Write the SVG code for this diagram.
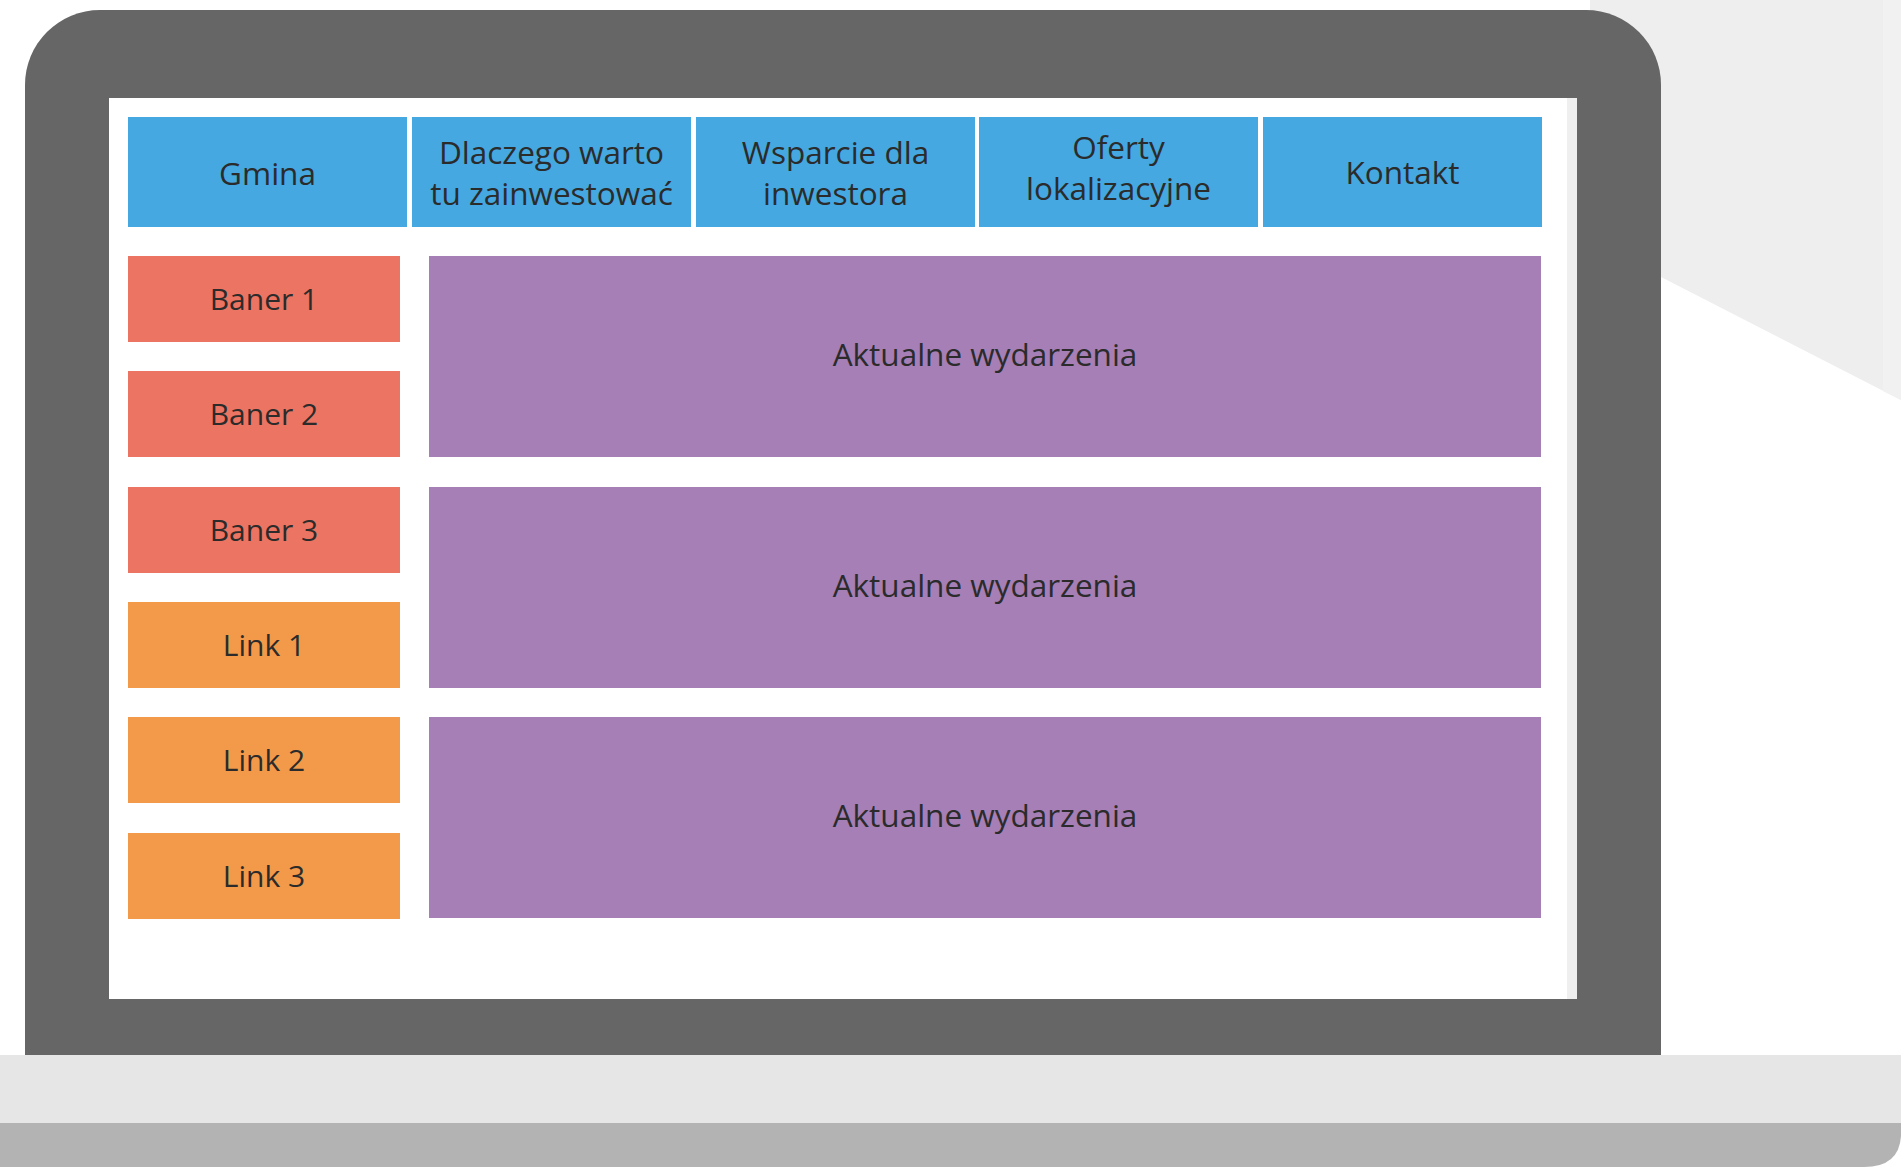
<svg xmlns="http://www.w3.org/2000/svg" width="1901" height="1167" viewBox="0 0 1901 1167">
  <style>
    .lbl { font-family: "Open Sans", "Noto Sans", sans-serif; fill: #2b2b2b; text-anchor: middle; }
    .top { font-size: 31.5px; }
    .side { font-size: 30px; }
    .menu { fill: #45a8e0; }
    .baner { fill: #eb7462; }
    .link { fill: #f29a4a; }
    .news { fill: #a67fb6; }
  </style>
  <rect x="0" y="0" width="1901" height="1167" fill="#ffffff"/>
  <!-- background shape top right -->
  <polygon points="1590,0 1901,0 1901,400 1661,277 1590,277" fill="#eeeeee"/>
  <polygon points="1883,0 1901,0 1901,400 1883,391" fill="#f1f1f1"/>
  <!-- laptop base -->
  <rect x="0" y="1055" width="1901" height="70" fill="#e6e6e6"/>
  <path d="M0 1123 H1901 V1136 Q1899 1167 1864 1167 H0 Z" fill="#b3b3b3"/>
  <!-- frame -->
  <path d="M25 1055 V85 A75 75 0 0 1 100 10 H1586 A75 75 0 0 1 1661 85 V1055 Z" fill="#666666"/>
  <!-- screen -->
  <rect x="109" y="98" width="1468" height="901" fill="#efefef"/>
  <rect x="109" y="98" width="1458" height="901" fill="#ffffff"/>

  <g id="menu-gmina"><rect class="menu" x="128" y="117" width="279" height="110"/><text class="lbl top" x="267.5" y="185">Gmina</text></g>
  <g id="menu-dlaczego"><rect class="menu" x="412" y="117" width="279" height="110"/><text class="lbl top" x="551.5" y="164">Dlaczego warto</text><text class="lbl top" x="551.5" y="205">tu zainwestować</text></g>
  <g id="menu-wsparcie"><rect class="menu" x="696" y="117" width="279" height="110"/><text class="lbl top" x="835.5" y="164">Wsparcie dla</text><text class="lbl top" x="835.5" y="205">inwestora</text></g>
  <g id="menu-oferty"><rect class="menu" x="979" y="117" width="279" height="110"/><text class="lbl top" x="1118.5" y="159">Oferty</text><text class="lbl top" x="1118.5" y="200">lokalizacyjne</text></g>
  <g id="menu-kontakt"><rect class="menu" x="1263" y="117" width="279" height="110"/><text class="lbl top" x="1402.5" y="184">Kontakt</text></g>

  <g id="baner-1"><rect class="baner" x="128" y="256" width="272" height="86"/><text class="lbl side" x="264" y="310">Baner 1</text></g>
  <g id="baner-2"><rect class="baner" x="128" y="371" width="272" height="86"/><text class="lbl side" x="264" y="425">Baner 2</text></g>
  <g id="baner-3"><rect class="baner" x="128" y="487" width="272" height="86"/><text class="lbl side" x="264" y="541">Baner 3</text></g>
  <g id="link-1"><rect class="link" x="128" y="602" width="272" height="86"/><text class="lbl side" x="264" y="656">Link 1</text></g>
  <g id="link-2"><rect class="link" x="128" y="717" width="272" height="86"/><text class="lbl side" x="264" y="771">Link 2</text></g>
  <g id="link-3"><rect class="link" x="128" y="833" width="272" height="86"/><text class="lbl side" x="264" y="887">Link 3</text></g>

  <g id="news-1"><rect class="news" x="429" y="256" width="1112" height="201"/><text class="lbl top" x="985" y="366">Aktualne wydarzenia</text></g>
  <g id="news-2"><rect class="news" x="429" y="487" width="1112" height="201"/><text class="lbl top" x="985" y="597">Aktualne wydarzenia</text></g>
  <g id="news-3"><rect class="news" x="429" y="717" width="1112" height="201"/><text class="lbl top" x="985" y="827">Aktualne wydarzenia</text></g>

  <g id="connectors"></g>
</svg>
